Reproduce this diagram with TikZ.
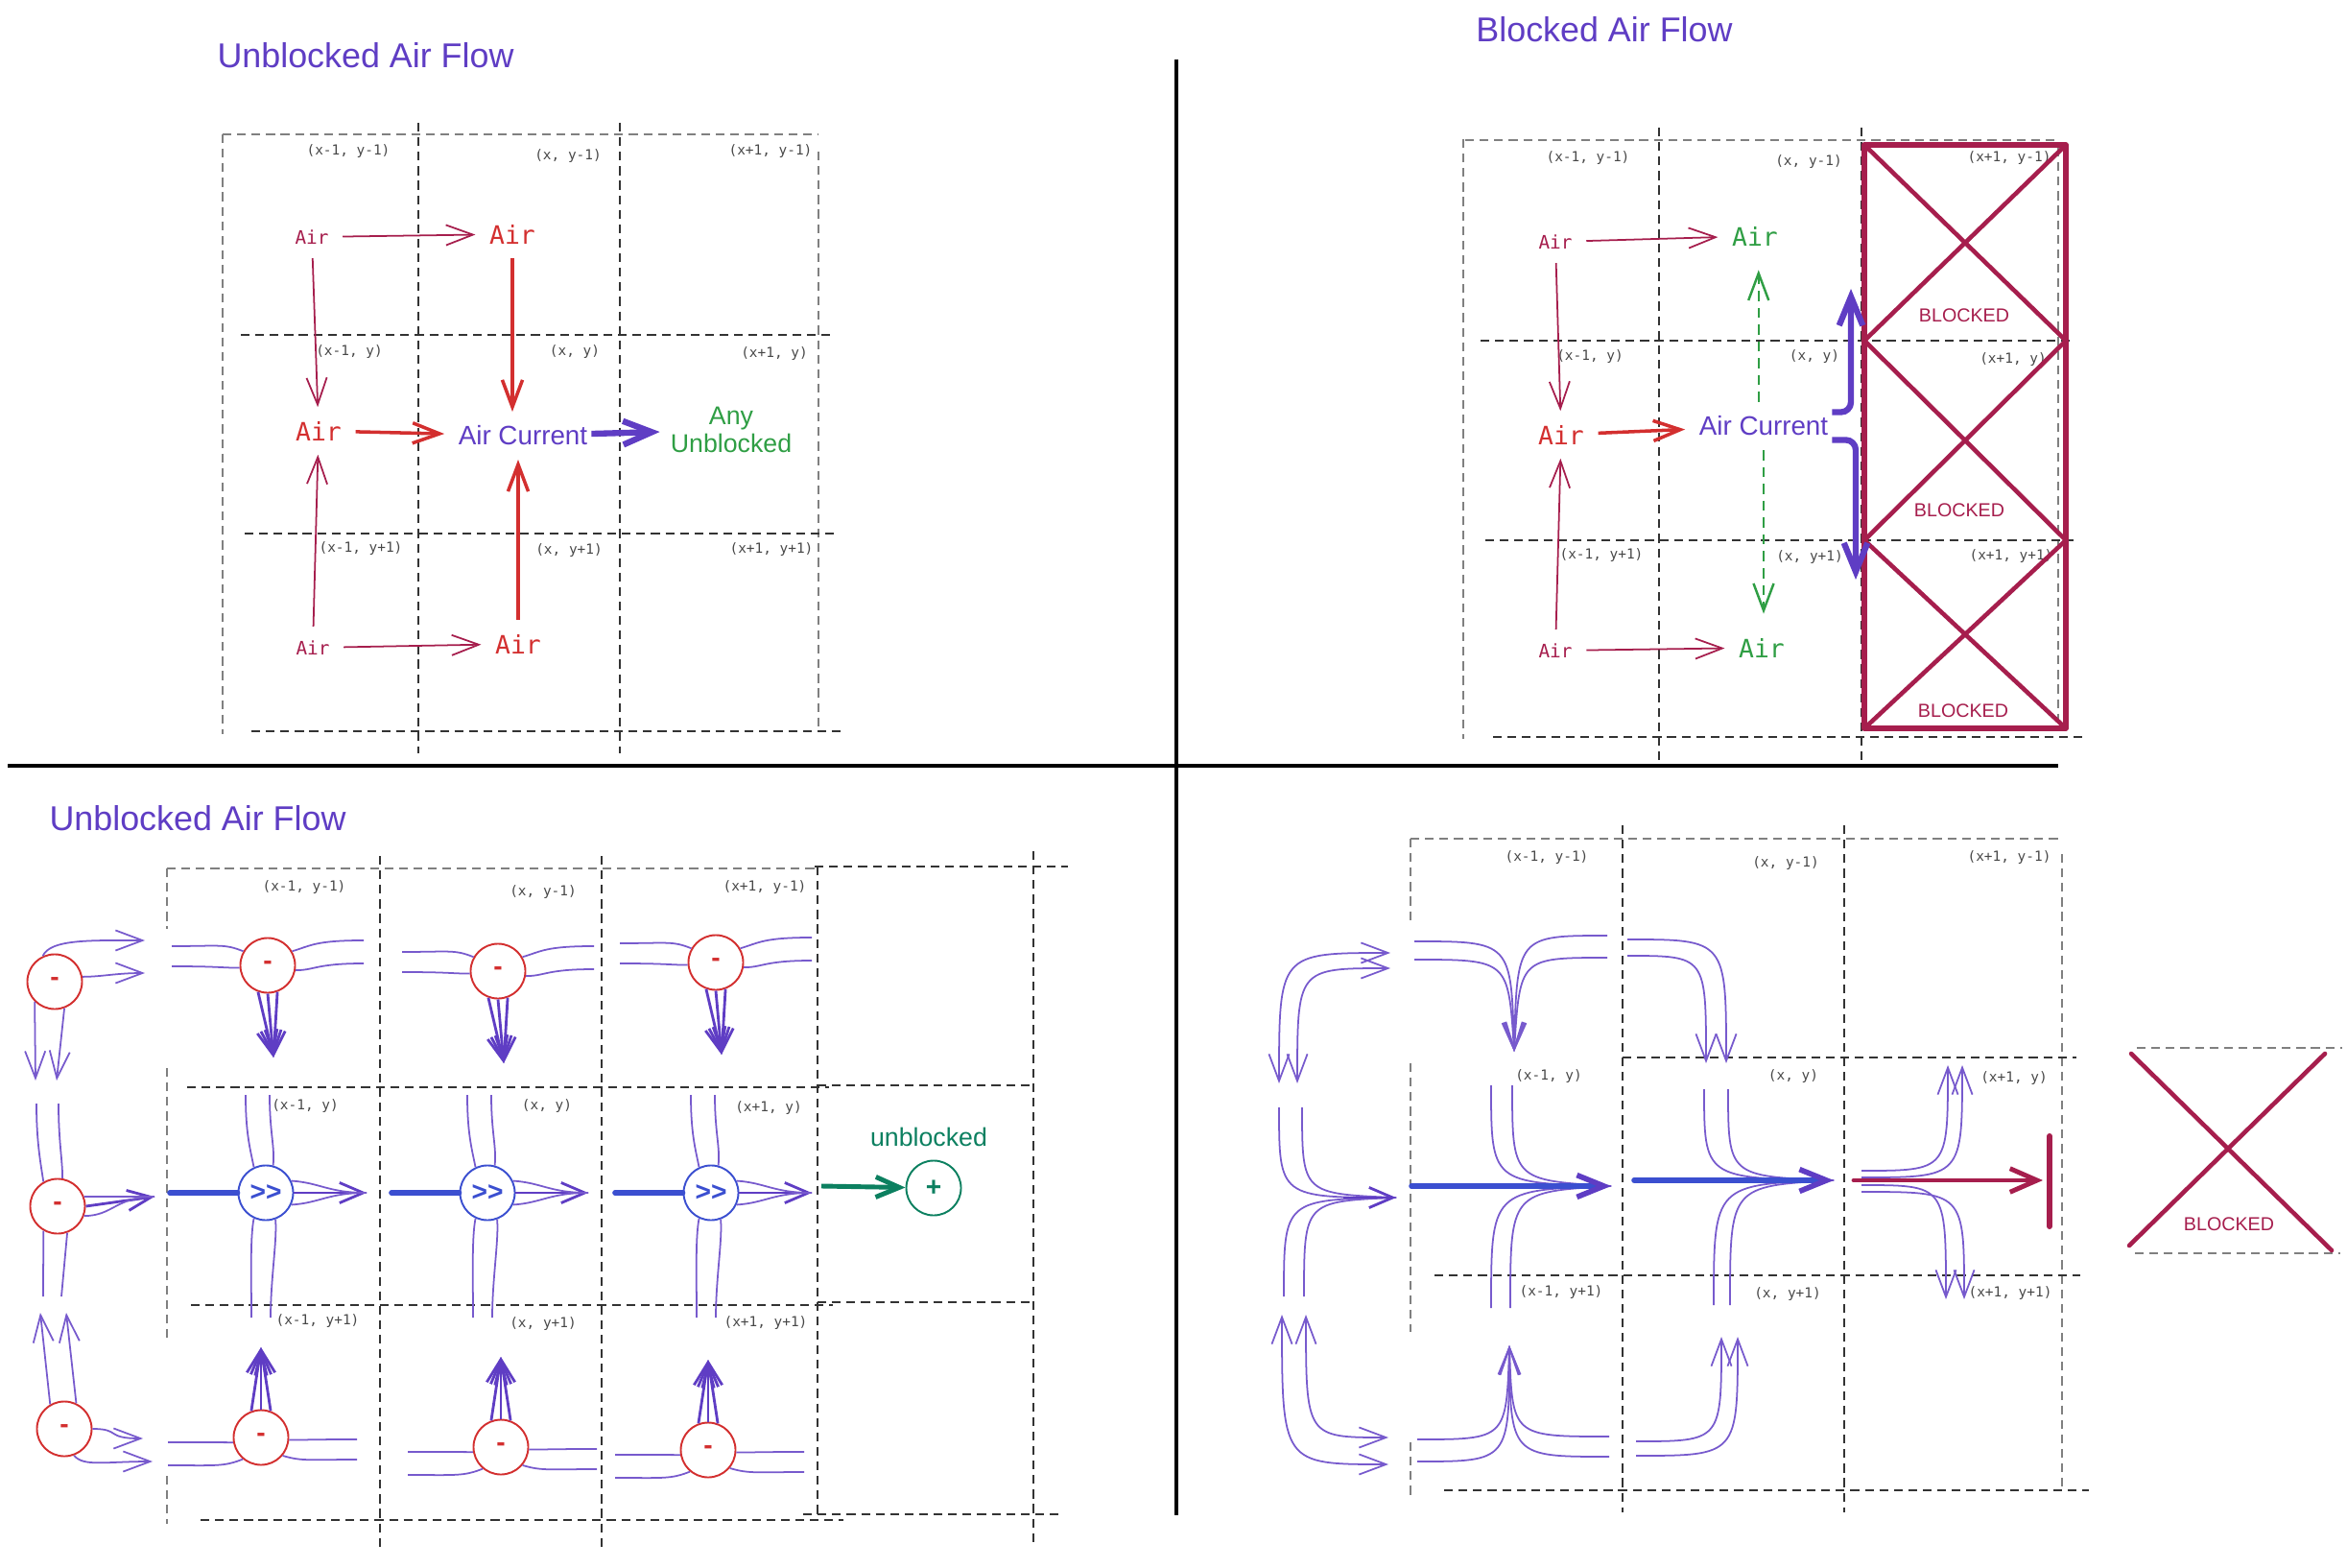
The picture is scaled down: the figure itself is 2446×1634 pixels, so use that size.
\documentclass[tikz,border=0pt]{standalone}
\usepackage{fontspec}
\setmainfont{Liberation Sans}
\setmonofont{DejaVu Sans Mono}
\usepackage{tikz}
\usetikzlibrary{positioning, arrows.meta}
\usepackage{xcolor}

\definecolor{flowviolet}{HTML}{5F3DC4}
\definecolor{passblue}{HTML}{3B4FD0}
\definecolor{airred}{HTML}{D32F2F}
\definecolor{crimson}{HTML}{A61E4D}
\definecolor{airgreen}{HTML}{2F9E44}
\definecolor{sourcegreen}{HTML}{0C8060}

\begin{document}
\begin{tikzpicture}[x=0.01cm, y=-0.01cm,
    cell/.style={draw=black!50, line width=0.45pt, dash pattern=on 2.6pt off 1.7pt},
    celldark/.style={cell, draw=black!80, line width=0.55pt},
    divider/.style={draw=black, line width=1.2pt},
    heading/.style={font=\fontsize{10.2}{12}\selectfont, text=flowviolet},
    coord/.style={font=\ttfamily\fontsize{4.1}{5}\selectfont, text=black!72, inner sep=0pt},
    airsmall/.style={font=\ttfamily\fontsize{5.5}{6.5}\selectfont, text=crimson, inner sep=1pt},
    airbig/.style={font=\ttfamily\fontsize{7.5}{9}\selectfont, text=airred, inner sep=1pt},
    airopen/.style={airbig, text=airgreen},
    current/.style={font=\fontsize{7.9}{9}\selectfont, text=flowviolet, inner sep=1pt},
    opentext/.style={font=\fontsize{7.6}{8.3}\selectfont, text=airgreen, align=center, inner sep=1pt},
    blocktext/.style={font=\fontsize{5.6}{6.5}\selectfont, text=crimson, inner sep=0pt},
    blockline/.style={draw=crimson, line width=1.6pt, line join=round},
    blockx/.style={draw=crimson, line width=1.3pt, line cap=round},
    barb/.style={-{Straight Barb[length=8pt, width=6pt]}},
    twobarb/.style={{Straight Barb[length=8pt, width=6pt]}-{Straight Barb[length=8pt, width=6pt]}},
    gap/.style={shorten <=3pt, shorten >=3pt},
    thinflow/.style={crimson, line width=0.5pt, barb, gap},
    redflow/.style={airred, line width=1pt, barb, gap},
    bigflow/.style={flowviolet, line width=1.8pt, -{Straight Barb[length=8.5pt, width=7pt]}},
    greendash/.style={airgreen, line width=0.7pt, dash pattern=on 3pt off 2pt, barb, shorten <=3pt, shorten >=6pt},
    sink/.style={circle, draw=airred, text=airred, line width=0.55pt, minimum size=0.57cm, inner sep=0pt, font=\bfseries\fontsize{8}{8}\selectfont},
    pass/.style={sink, draw=passblue, text=passblue},
    source/.style={sink, draw=sourcegreen, text=sourcegreen},
    stream/.style={flowviolet!85, line width=0.5pt},
    fan/.style={flowviolet, line width=0.8pt, -{Straight Barb[length=7pt, width=6pt]}},
    mainline/.style={passblue, line width=1.6pt, line cap=round},
    mainflow/.style={mainline, -{Straight Barb[length=8pt, width=6.5pt, color=flowviolet]}},
    blockflow/.style={crimson, line width=1.4pt, line cap=round, -{Straight Barb[length=8pt, width=7pt]}},
    greenflow/.style={sourcegreen, line width=1.4pt, -{Straight Barb[length=7pt, width=6pt]}},
    handtext/.style={font=\fontsize{7.6}{9}\selectfont, text=sourcegreen}
  ]
  \useasboundingbox (0,0) rectangle (2446,1634);

  % Quadrant dividers
  \draw[divider] (1226,62) -- (1226,1579);
  \draw[divider] (8,798) -- (2145,798);

  % ---------------- Top left: unblocked air flow
  \node[heading] (tl-title) at (381,58) {Unblocked Air Flow};
  \draw[cell] (232,140) -- (853,140);
  \draw[cell] (232,140) -- (232,765);
  \draw[cell] (853,158) -- (853,758);
  \draw[celldark] (436,128) -- (436,785);
  \draw[celldark] (646,128) -- (646,785);
  \draw[celldark] (251,349) -- (867,349);
  \draw[celldark] (255,556) -- (870,556);
  \draw[celldark] (262,762) -- (879,762);
  \foreach \x/\y/\t [count=\n] in {363/158/{(x-1, y-1)}, 592/163/{(x, y-1)}, 803/158/{(x+1, y-1)},
      364/367/{(x-1, y)}, 599/367/{(x, y)}, 807/369/{(x+1, y)},
      376/572/{(x-1, y+1)}, 593/574/{(x, y+1)}, 804/573/{(x+1, y+1)}}
    \node[coord] (tl-c\n) at (\x,\y) {\t};

  \node[airsmall] (tl-a1) at (325,247) {Air};
  \node[airbig]   (tl-a2) at (534,244) {Air};
  \node[airbig]   (tl-a3) at (332,449) {Air};
  \node[current]  (tl-cur) at (545,454) {Air Current};
  \node[opentext] (tl-any) at (762,448) {Any\\Unblocked};
  \node[airsmall] (tl-a4) at (326,675) {Air};
  \node[airbig]   (tl-a5) at (540,671) {Air};

  \draw[thinflow] (tl-a1) -- (tl-a2);
  \draw[thinflow] (tl-a1) -- (tl-a3);
  \draw[thinflow] (tl-a4) -- (tl-a3);
  \draw[thinflow] (tl-a4) -- (tl-a5);
  \draw[redflow] (tl-a2.south) -- (tl-a2.south |- tl-cur.north);
  \draw[redflow] (tl-a3) -- (tl-cur);
  \draw[redflow] (tl-a5.north) -- (tl-a5.north |- tl-cur.south);
  \draw[bigflow, shorten >=2pt] (tl-cur) -- (tl-any);

  % ---------------- Top right: blocked air flow
  \node[heading] (tr-title) at (1672,31) {Blocked Air Flow};
  \draw[cell] (1525,145) -- (1525,770);
  \draw[cell] (1527,146) -- (2143,146);
  \draw[cell] (2145,154) -- (2145,761);
  \draw[celldark] (1729,133) -- (1729,796);
  \draw[celldark] (1940,133) -- (1940,796);
  \draw[celldark] (1543,355) -- (2158,355);
  \draw[celldark] (1548,563) -- (2161,563);
  \draw[celldark] (1556,768) -- (2170,768);
  \foreach \x/\y/\t [count=\n] in {1655/165/{(x-1, y-1)}, 1885/169/{(x, y-1)}, 2094/165/{(x+1, y-1)},
      1657/372/{(x-1, y)}, 1891/372/{(x, y)}, 2098/375/{(x+1, y)},
      1669/579/{(x-1, y+1)}, 1886/581/{(x, y+1)}, 2096/580/{(x+1, y+1)}}
    \node[coord] (tr-c\n) at (\x,\y) {\t};

  % blocked column
  \draw[blockline] (1943,151) rectangle (2153,759);
  \foreach \t/\b in {151/355, 355/563, 563/759}
    \draw[blockx] (1943,\t) -- (2153,\b) (2153,\t) -- (1943,\b);
  \node[blocktext] (tr-b1) at (2047,329) {BLOCKED};
  \node[blocktext] (tr-b2) at (2042,532) {BLOCKED};
  \node[blocktext] (tr-b3) at (2046,741) {BLOCKED};

  \node[airsmall] (tr-a1) at (1621,252) {Air};
  \node[airopen]  (tr-a2) at (1829,246) {Air};
  \node[airbig]   (tr-a3) at (1627,453) {Air};
  \node[current]  (tr-cur) at (1838,444) {Air Current};
  \node[airsmall] (tr-a4) at (1621,678) {Air};
  \node[airopen]  (tr-a5) at (1836,675) {Air};

  \draw[thinflow] (tr-a1) -- (tr-a2);
  \draw[thinflow] (tr-a1) -- (tr-a3);
  \draw[thinflow] (tr-a4) -- (tr-a3);
  \draw[thinflow] (tr-a4) -- (tr-a5);
  \draw[redflow] (tr-a3) -- (tr-cur);
  \draw[greendash] ([xshift=-1.5pt]tr-cur.north) -- ([xshift=-1.5pt]tr-cur.north |- tr-a2.south);
  \draw[greendash] (tr-cur.south) -- (tr-cur.south |- tr-a5.north);
  \coordinate (tr-up) at (1929,301);
  \coordinate (tr-down) at (1934,604);
  \draw[bigflow, rounded corners=3pt] (tr-cur.north east) -| (tr-up);
  \draw[bigflow, rounded corners=3pt] (tr-cur.south east) -| (tr-down);

  % ---------------- Bottom left: unblocked air flow
  \node[heading] (bl-title) at (206,853) {Unblocked Air Flow};
  \draw[cell] (174,905) -- (852,905);
  \draw[celldark] (849,903) -- (1113,903);
  \draw[cell] (174,905) -- (174,968);
  \draw[cell] (174,1113) -- (174,1394);
  \draw[cell] (174,1538) -- (174,1588);
  \draw[celldark] (396,892) -- (396,1612);
  \draw[celldark] (627,892) -- (627,1614);
  \draw[celldark] (852,903) -- (852,1578);
  \draw[celldark] (1077,887) -- (1077,1609);
  \draw[celldark] (195,1133) -- (864,1133);
  \draw[celldark] (852,1131) -- (1078,1131);
  \draw[celldark] (199,1360) -- (868,1360);
  \draw[celldark] (852,1357) -- (1076,1357);
  \draw[celldark] (209,1584) -- (879,1584);
  \draw[celldark] (837,1578) -- (1103,1578);
  \foreach \x/\y/\t [count=\n] in {317/925/{(x-1, y-1)}, 566/930/{(x, y-1)}, 797/925/{(x+1, y-1)},
      318/1153/{(x-1, y)}, 570/1153/{(x, y)}, 801/1155/{(x+1, y)},
      331/1377/{(x-1, y+1)}, 566/1380/{(x, y+1)}, 798/1379/{(x+1, y+1)}}
    \node[coord] (bl-c\n) at (\x,\y) {\t};

  % three columns of cells
  \foreach \i/\tx/\ty/\mx/\bx/\by in {1/279/1006/277/272/1498, 2/519/1012/508/522/1508, 3/746/1003/741/738/1511} {
    % upper row: air is pulled down
    \node[sink] (top\i) at (\tx,\ty) {-};
    \draw[stream] ([shift={(-100,-20)}]top\i.center) .. controls +(50,0) and +(-20,-8) .. (top\i.150);
    \draw[stream] ([shift={(-100,1)}]top\i.center) .. controls +(50,0) and +(-20,0) .. (top\i.185);
    \draw[stream] (top\i.30) .. controls +(20,-6) and +(-50,0) .. ([shift={(100,-26)}]top\i.center);
    \draw[stream] (top\i.350) .. controls +(20,0) and +(-50,0) .. ([shift={(100,-2)}]top\i.center);
    \foreach \a in {250,270,290}
      \draw[fan] (top\i.\a) -- ([shift={(6,96)}]top\i.center);
    % middle row: the current passes through
    \node[pass] (mid\i) at (\mx,1243) {>{}>};
    \coordinate (tip\i) at ([shift={(105,0)}]mid\i.center);
    \draw[mainline] ([shift={(-100,0)}]mid\i.center) -- (mid\i.west);
    \draw[fan] (mid\i.east) -- (tip\i);
    \draw[stream] (mid\i.25) .. controls +(30,2) and +(-40,0) .. (tip\i);
    \draw[stream] (mid\i.335) .. controls +(30,-2) and +(-40,0) .. (tip\i);
    \draw[stream] ([shift={(-21,-102)}]mid\i.center) .. controls +(0,40) and +(-4,-20) .. (mid\i.115);
    \draw[stream] ([shift={(4,-102)}]mid\i.center) .. controls +(0,40) and +(2,-20) .. (mid\i.75);
    \draw[stream] (mid\i.245) .. controls +(-4,20) and +(0,-40) .. ([shift={(-15,130)}]mid\i.center);
    \draw[stream] (mid\i.290) .. controls +(2,20) and +(0,-40) .. ([shift={(5,130)}]mid\i.center);
    % lower row: air is pulled up
    \node[sink] (bot\i) at (\bx,\by) {-};
    \draw[stream] ([shift={(-97,5)}]bot\i.center) .. controls +(50,0) and +(-20,0) .. (bot\i.190);
    \draw[stream] ([shift={(-97,29)}]bot\i.center) .. controls +(50,0) and +(-20,8) .. (bot\i.230);
    \draw[stream] (bot\i.355) .. controls +(20,0) and +(-50,0) .. ([shift={(100,2)}]bot\i.center);
    \draw[stream] (bot\i.320) .. controls +(20,6) and +(-50,0) .. ([shift={(100,23)}]bot\i.center);
    \foreach \a in {70,90,110}
      \draw[fan] (bot\i.\a) -- ([shift={(0,-94)}]bot\i.center);
  }

  % left column, outside the grid
  \node[sink] (s1) at (57,1023) {-};
  \draw[stream, barb] (s1.115) .. controls +(8,-18) and +(-55,0) .. ([shift={(94,-43)}]s1.center);
  \draw[stream, barb] (s1.10) .. controls +(20,0) and +(-30,0) .. ([shift={(94,-9)}]s1.center);
  \draw[stream, barb] (s1.225) -- ([shift={(-20,103)}]s1.center);
  \draw[stream, barb] (s1.290) -- ([shift={(2,103)}]s1.center);

  \node[sink] (s2) at (60,1257) {-};
  \draw[stream] ([shift={(-22,-107)}]s2.center) .. controls +(0,40) and +(-3,-20) .. (s2.120);
  \draw[stream] ([shift={(1,-107)}]s2.center) .. controls +(0,40) and +(0,-20) .. (s2.80);
  \draw[stream] (s2.240) -- ([shift={(-15,94)}]s2.center);
  \draw[stream] (s2.290) -- ([shift={(4,94)}]s2.center);
  \coordinate (s2tip) at ([shift={(101,-10)}]s2.center);
  \draw[fan] (s2.east) -- (s2tip);
  \draw[stream] (s2.20) .. controls +(30,0) and +(-40,0) .. (s2tip);
  \draw[stream] (s2.340) .. controls +(30,0) and +(-40,0) .. (s2tip);

  \node[sink] (s3) at (67,1489) {-};
  \draw[stream, barb] (s3.120) -- ([shift={(-25,-121)}]s3.center);
  \draw[stream, barb] (s3.65) -- ([shift={(2,-121)}]s3.center);
  \draw[stream, barb] (s3.east) .. controls +(30,0) and +(-40,0) .. ([shift={(82,10)}]s3.center);
  \draw[stream, barb] (s3.290) .. controls +(10,12) and +(-50,0) .. ([shift={(92,34)}]s3.center);

  % the free cell
  \node[source] (bl-plus) at (973,1238) {+};
  \node[handtext] (bl-free) at (968,1185) {unblocked};
  \coordinate (bl-out) at (856,1236);
  \draw[greenflow] (bl-out) -- (bl-plus);

  % ---------------- Bottom right: blocked neighbour
  \draw[cell] (1470,874) -- (2145,874);
  \draw[cell] (1470,874) -- (1470,961);
  \draw[cell] (1470,1108) -- (1470,1388);
  \draw[cell] (1470,1503) -- (1470,1558);
  \draw[celldark] (1691,860) -- (1691,1576);
  \draw[celldark] (1922,860) -- (1922,1576);
  \draw[cell] (2149,890) -- (2149,1549);
  \draw[celldark] (1691,1102) -- (2164,1102);
  \draw[celldark] (1495,1329) -- (2168,1329);
  \draw[celldark] (1505,1553) -- (2177,1553);
  \foreach \x/\y/\t [count=\n] in {1612/894/{(x-1, y-1)}, 1861/900/{(x, y-1)}, 2094/894/{(x+1, y-1)},
      1614/1122/{(x-1, y)}, 1869/1122/{(x, y)}, 2099/1124/{(x+1, y)},
      1627/1347/{(x-1, y+1)}, 1863/1349/{(x, y+1)}, 2095/1348/{(x+1, y+1)}}
    \node[coord] (br-c\n) at (\x,\y) {\t};

  % left column
  \draw[stream, twobarb] (1333,1129) .. controls (1333,993) .. (1449,993);
  \draw[stream, twobarb] (1352,1129) .. controls (1352,1009) .. (1449,1009);
  \coordinate (br-tip0) at (1455,1248);
  \foreach \x/\y/\c in {1333/1154/1248, 1357/1154/1244, 1338/1351/1250, 1359/1351/1252}
    \draw[stream] (\x,\y) .. controls (\x,\c) .. (br-tip0);
  \draw[fan] (1400,1248) -- (br-tip0);
  \draw[stream, twobarb] (1336,1370) .. controls (1336,1526) .. (1447,1526);
  \draw[stream, twobarb] (1361,1370) .. controls (1361,1498) .. (1447,1498);

  % column x-1
  \coordinate (br-fall1) at (1578,1096);
  \foreach \x/\y/\c in {1474/981/1575, 1474/1000/1572, 1675/975/1581, 1675/998/1584}
    \draw[stream, barb] (\x,\y) .. controls (\c,\y) .. (br-fall1);
  \coordinate (br-tip1) at (1679,1236);
  \foreach \x/\y/\c in {1554/1131/1233, 1576/1131/1230, 1554/1363/1240, 1574/1363/1242}
    \draw[stream] (\x,\y) .. controls (\x,\c) .. (br-tip1);
  \draw[mainflow] (1471,1236) -- (br-tip1);
  \coordinate (br-rise1) at (1573,1402);
  \foreach \x/\y/\c in {1477/1500/1570, 1477/1523/1573, 1677/1497/1576, 1677/1518/1574}
    \draw[stream, barb] (\x,\y) .. controls (\c,\y) .. (br-rise1);

  % column x
  \draw[stream, barb] (1696,979) .. controls (1799,979) .. (1799,1108);
  \draw[stream, barb] (1696,996) .. controls (1778,996) .. (1778,1108);
  \coordinate (br-tip2) at (1911,1230);
  \foreach \x/\y/\c in {1776/1135/1228, 1801/1135/1226, 1786/1360/1234, 1803/1360/1236}
    \draw[stream] (\x,\y) .. controls (\x,\c) .. (br-tip2);
  \draw[mainflow] (1703,1230) -- (br-tip2);
  \draw[stream, barb] (1705,1502) .. controls (1794,1502) .. (1794,1393);
  \draw[stream, barb] (1705,1517) .. controls (1811,1517) .. (1811,1393);

  % column x+1: the current is stopped
  \foreach \y/\c/\e in {1220/2030/1110, 1227/2045/1110, 1235/2028/1354, 1242/2047/1354}
    \draw[stream, barb] (1940,\y) .. controls (\c,\y) .. (\c,\e);
  \coordinate (br-stop) at (2129,1230);
  \draw[blockflow] (1932,1230) -- (br-stop);
  \draw[blockx, line width=1.7pt] (2136,1184) -- (2136,1278);

  % blocked cell
  \draw[cell] (2227,1092) -- (2441,1092);
  \draw[cell] (2225,1306) -- (2439,1306);
  \draw[blockx] (2221,1098) -- (2430,1303);
  \draw[blockx] (2423,1098) -- (2219,1298);
  \node[blocktext] (br-blocked) at (2323,1276) {BLOCKED};
\end{tikzpicture}
\end{document}
